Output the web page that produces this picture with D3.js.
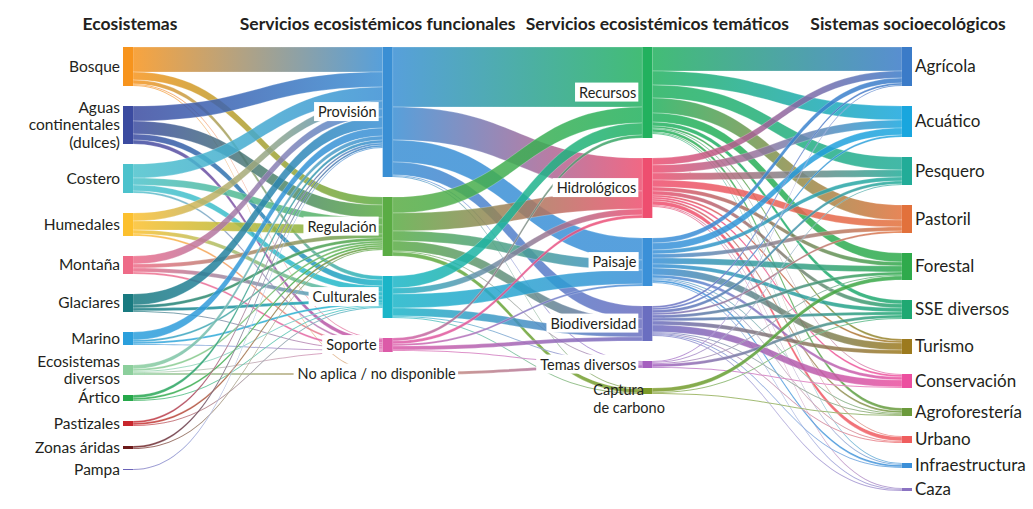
<!DOCTYPE html>
<html>
<head>
<meta charset="utf-8">
<script src="https://cdn.jsdelivr.net/npm/d3@7"></script>
<style>
  body { margin: 0; background: #fff; }
  text { font-family: Lato, "Noto Sans", sans-serif; fill: #231f20; }
  .header { font-weight: 700; font-size: 17.5px; }
</style>
</head>
<body>
<svg id="viz" width="1033" height="509"></svg>
<script>
// column headers
const encabezados = ['Ecosistemas', 'Servicios ecosistémicos funcionales', 'Servicios ecosistémicos temáticos', 'Sistemas socioecológicos'];

// node names per column (\n = line break in the label)
const ecosistemas = ['Bosque', 'Aguas\ncontinentales\n(dulces)', 'Costero', 'Humedales', 'Montaña', 'Glaciares', 'Marino',
  'Ecosistemas\ndiversos', 'Ártico', 'Pastizales', 'Zonas áridas', 'Pampa'];
const funcionales = ['Provisión', 'Regulación', 'Culturales', 'Soporte', 'No aplica / no disponible'];
const tematicos = ['Recursos', 'Hidrológicos', 'Paisaje', 'Biodiversidad', 'Temas diversos', 'Captura\nde carbono'];
const sistemas = ['Agrícola', 'Acuático', 'Pesquero', 'Pastoril', 'Forestal', 'SSE diversos', 'Turismo', 'Conservación',
  'Agroforestería', 'Urbano', 'Infraestructura', 'Caza'];

// flows: rows = source node, columns = target node (number of cases)
const ecoFun = [
  [25, 8, 4, 1, 1],
  [15, 13, 6, 4, 0],
  [14, 7, 6, 2, 0],
  [8, 9, 4, 2, 0],
  [8, 4, 4, 2, 0],
  [11, 3, 3, 1, 0],
  [8, 2, 2, 1, 0],
  [4, 2, 1, 1, 2],
  [3, 2, 1, 0, 0],
  [2, 2, 1, 0, 0],
  [2, 1, 0, 0, 0],
  [1, 0, 0, 0, 0]
];
const funTem = [
  [60, 33, 22, 13, 1, 1],
  [16, 18, 10, 10, 1, 4],
  [12, 6, 14, 8, 1, 1],
  [3, 3, 2, 4, 1, 0],
  [0, 0, 0, 0, 3, 0]
];
const temSis = [
  [24, 14, 13, 15, 9, 4, 2, 1, 3, 1, 1, 0],
  [7, 8, 7, 7, 4, 4, 2, 2, 2, 4, 1, 1],
  [5, 7, 4, 4, 6, 4, 7, 3, 1, 1, 2, 1],
  [2, 2, 3, 2, 3, 3, 4, 7, 1, 1, 1, 1],
  [1, 0, 1, 0, 1, 3, 0, 1, 0, 0, 0, 0],
  [0, 0, 0, 0, 4, 1, 0, 0, 1, 0, 0, 0]
];

// colours, same order as the names
const colores = [
  ['#f7941d', '#3b4ba0', '#4cc2cc', '#fcc02e', '#ee6b88', '#197a80', '#2b9fdc', '#8ccf9c', '#26a84a', '#c8262c', '#6d1a1a', '#6a62b8'],
  ['#3a8fd4', '#5aac44', '#1bb5c8', '#dc5aa8', '#c9946a'],
  ['#22b15e', '#ee4e6f', '#3a90d8', '#6a6ec0', '#a55fbf', '#7c9a28'],
  ['#3b7bc8', '#19a6de', '#22ac98', '#e2713b', '#2faa4c', '#1fa872', '#9c7a1e', '#ec4f9f', '#6b9a3b', '#ef5d5e', '#3b8fd8', '#8b73c2']
];

// header centre relative to its column of nodes
const desplazaEncabezado = [2, -10, 10, 1];

const columns = [ecosistemas, funcionales, tematicos, sistemas];
const matrices = [ecoFun, funTem, temSis];

const topY = 47, pad = 20, nodeW = 10;
const x = d3.scalePoint().domain(d3.range(columns.length)).range([123, 902]);
const h = d3.scaleLinear().domain([0, 1]).range([0, 1]);

// build nodes and links
const nodes = [];
columns.forEach((names, c) => names.forEach((name, i) => {
  nodes.push({ name, col: c, idx: i, color: colores[c][i], ins: [], outs: [] });
}));
const nodeAt = (c, i) => nodes.find(n => n.col === c && n.idx === i);

const links = [];
matrices.forEach((m, c) => m.forEach((row, i) => row.forEach((v, j) => {
  if (!v) return;
  const l = { source: nodeAt(c, i), target: nodeAt(c + 1, j), value: v };
  l.source.outs.push(l);
  l.target.ins.push(l);
  links.push(l);
})));

nodes.forEach(n => {
  n.value = Math.max(d3.sum(n.ins, l => l.value), d3.sum(n.outs, l => l.value));
});

// stack nodes in each column
columns.forEach((names, c) => {
  let y = topY;
  nodes.filter(n => n.col === c).forEach(n => {
    n.x0 = x(c);
    n.x1 = n.x0 + nodeW;
    n.y0 = y;
    n.y1 = y + h(n.value);
    y = n.y1 + pad;
  });
});

// stack links on each side of the nodes
nodes.forEach(n => {
  let y = n.y0;
  n.outs.sort((a, b) => a.target.y0 - b.target.y0).forEach(l => { l.sy0 = y; y += h(l.value); l.sy1 = y; });
  y = n.y0;
  n.ins.sort((a, b) => a.source.y0 - b.source.y0).forEach(l => { l.ty0 = y; y += h(l.value); l.ty1 = y; });
});

const ribbon = (l) => {
  const x0 = l.source.x1, x1 = l.target.x0, xm = (x0 + x1) / 2;
  return `M${x0},${l.sy0}C${xm},${l.sy0} ${xm},${l.ty0} ${x1},${l.ty0}` +
         `L${x1},${l.ty1}C${xm},${l.ty1} ${xm},${l.sy1} ${x0},${l.sy1}Z`;
};

const svg = d3.select('#viz');
const defs = svg.append('defs');

links.forEach((l, i) => {
  const g = defs.append('linearGradient')
    .attr('id', `grad${i}`)
    .attr('gradientUnits', 'userSpaceOnUse')
    .attr('x1', l.source.x1).attr('x2', l.target.x0)
    .attr('y1', 0).attr('y2', 0);
  g.append('stop').attr('offset', '0%').attr('stop-color', l.source.color);
  g.append('stop').attr('offset', '100%').attr('stop-color', l.target.color);
});

svg.append('g')
  .selectAll('path')
  .data(links)
  .enter().append('path')
    .attr('d', ribbon)
    .attr('fill', (d, i) => `url(#grad${i})`)
    .attr('fill-opacity', 0.85)
    .attr('stroke', '#fff')
    .attr('stroke-width', 0.4)
    .attr('stroke-opacity', 0.6);

svg.append('g')
  .selectAll('rect')
  .data(nodes)
  .enter().append('rect')
    .attr('x', d => d.x0)
    .attr('y', d => d.y0)
    .attr('width', nodeW)
    .attr('height', d => Math.max(1, d.y1 - d.y0))
    .attr('fill', d => d.color);

// headers
svg.append('g')
  .selectAll('text')
  .data(encabezados)
  .enter().append('text')
    .attr('class', 'header')
    .attr('x', (d, i) => x(i) + nodeW / 2 + desplazaEncabezado[i])
    .attr('y', 30)
    .attr('text-anchor', 'middle')
    .text(d => d);

// labels
const labels = svg.append('g');
nodes.forEach(n => {
  const lines = n.name.split('\n');
  const cy = (n.y0 + n.y1) / 2;
  let size = 14.5, anchor = 'end', lx = n.x0 - 6, lh = 17.5, y0 = cy - (lines.length - 1) * lh / 2;
  let boxed = n.col === 1 || n.col === 2;
  if (n.col === 0) { size = 15.5; lx = n.x0 - 3; }
  if (n.col === 3) { size = 17; anchor = 'start'; lx = n.x1 + 3; }
  if (n.name.startsWith('No aplica')) { anchor = 'middle'; lx = n.x0 - 6; }
  if (n.name.startsWith('Captura')) { anchor = 'start'; lx = n.x0 - 49; y0 = cy - 1; lh = 18; boxed = false; }

  const t = labels.append('text')
    .attr('text-anchor', anchor)
    .style('font-size', `${size}px`);
  lines.forEach((s, k) => {
    t.append('tspan')
      .attr('x', lx)
      .attr('y', y0 + k * lh)
      .attr('dy', '0.35em')
      .text(s);
  });
  if (boxed) {
    const b = t.node().getBBox();
    labels.insert('rect', () => t.node())
      .attr('x', b.x - 4)
      .attr('y', b.y - 1)
      .attr('width', b.width + 6)
      .attr('height', b.height + 2)
      .attr('fill', '#fff');
  }
});
</script>
</body>
</html>
